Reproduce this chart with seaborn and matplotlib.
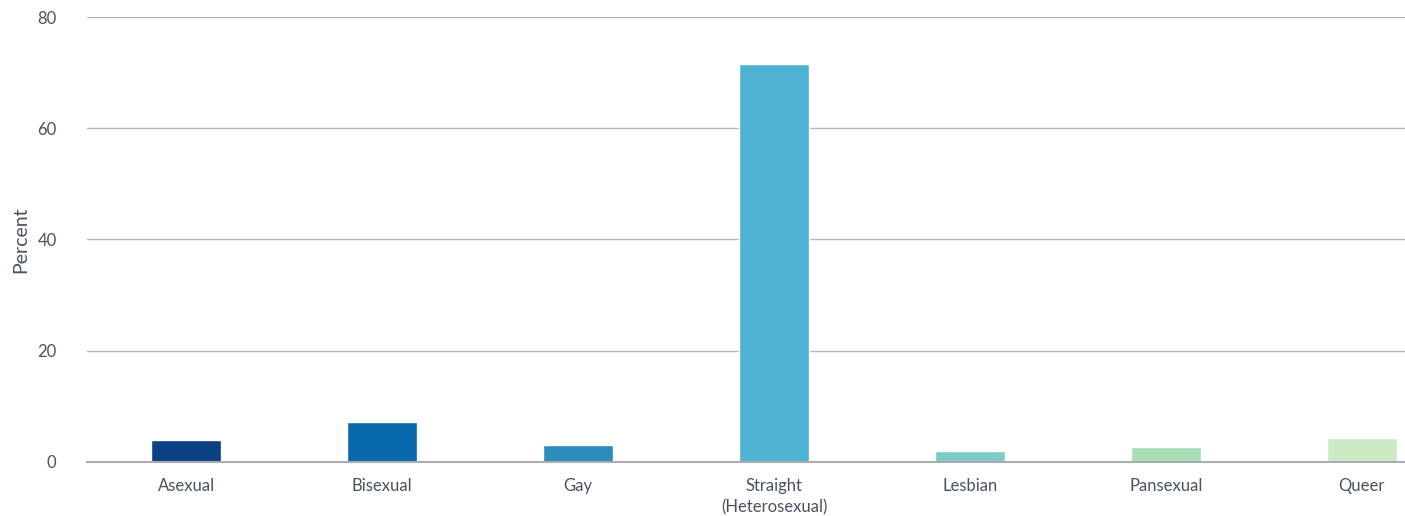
import matplotlib
matplotlib.use("Agg")
import matplotlib.pyplot as plt
import seaborn as sns
import pandas as pd

# data
categories = ["Asexual", "Bisexual", "Gay", "Straight\n(Heterosexual)",
              "Lesbian", "Pansexual", "Queer"]
percent = [4.0, 7.2, 3.1, 71.5, 2.0, 2.6, 4.2]
colors = ["#0b4083", "#0868ac", "#2b8cbe", "#4eb3d3",
          "#7bccc4", "#a8ddb5", "#ccebc5"]

df = pd.DataFrame({"Orientation": categories, "Percent": percent})

sns.set_theme(style="white")
plt.rcParams["font.family"] = ["Lato", "DejaVu Sans"]
text_color = "#4a5160"

fig = plt.figure(figsize=(14.05, 5.16), dpi=100)
ax = fig.add_axes([0.062, 0.105, 0.938, 0.862])

sns.barplot(data=df, x="Orientation", y="Percent", hue="Orientation",
            palette=colors, saturation=1, width=0.36, legend=False,
            ax=ax, zorder=3)

ax.set_ylim(0, 80)
ax.set_yticks([0, 20, 40, 60, 80])
ax.set_xlim(-0.505, 6.22)
ax.yaxis.grid(True, color="#b5b8bd", linewidth=1, zorder=0)
for s in ["top", "right", "left"]:
    ax.spines[s].set_visible(False)
ax.spines["bottom"].set_color("#a9adb3")
ax.spines["bottom"].set_linewidth(1.5)
ax.spines["bottom"].set_zorder(4)

ax.set_xlabel("")
ax.set_ylabel("Percent", fontsize=14, color=text_color)
ax.tick_params(axis="x", length=0, pad=12, labelsize=12, labelcolor=text_color)
ax.tick_params(axis="y", length=0, pad=22, labelsize=12, labelcolor=text_color)
for lbl in ax.get_xticklabels():
    lbl.set_linespacing(1.35)
ax.yaxis.set_label_coords(-0.044, 0.5)

fig.savefig("out.png", dpi=100)
